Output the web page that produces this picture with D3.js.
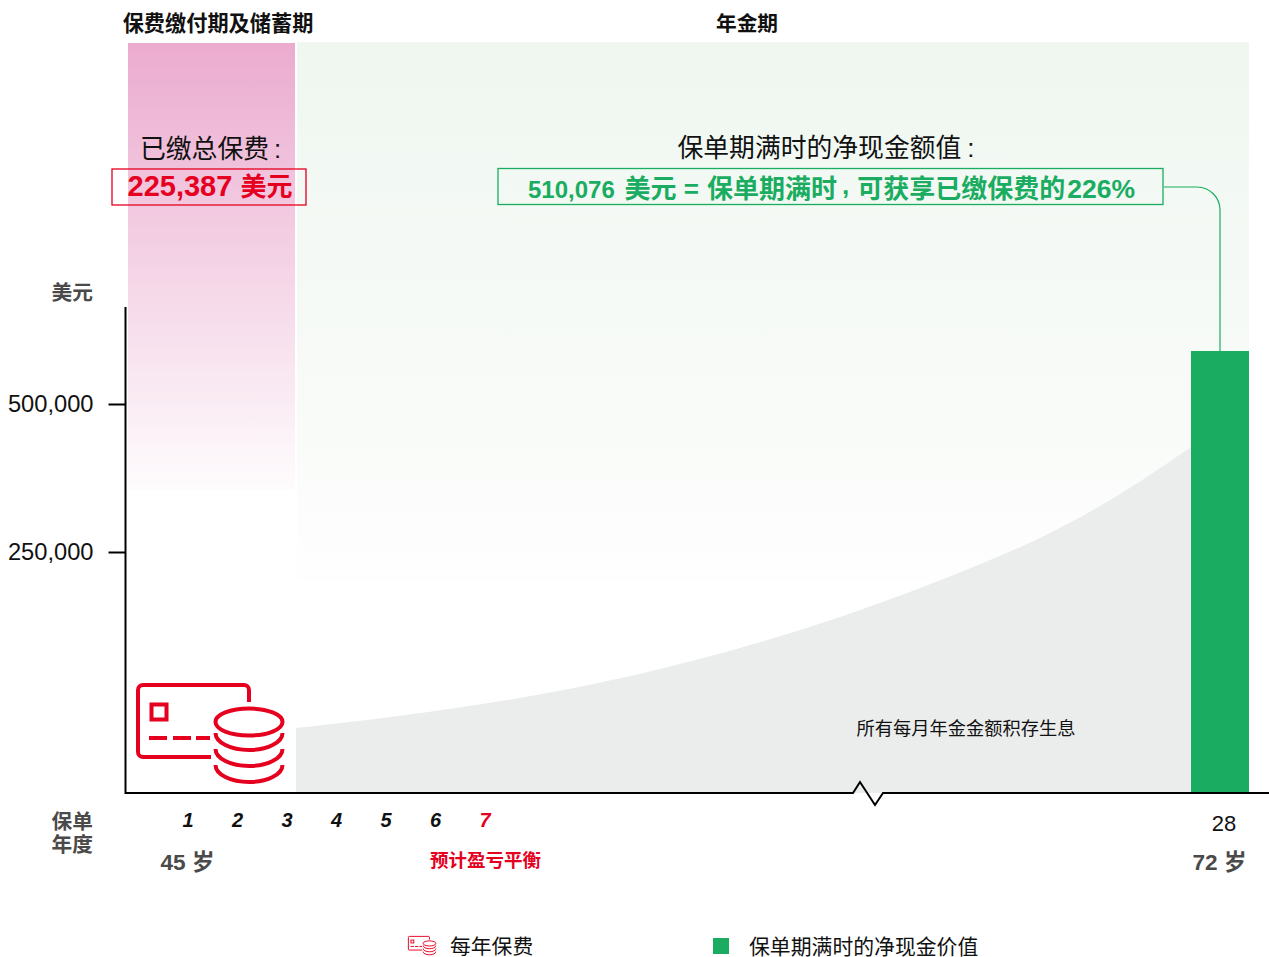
<!DOCTYPE html>
<html>
<head>
<meta charset="utf-8">
<script src="https://cdn.jsdelivr.net/npm/d3@7"></script>
<style>
  html, body { margin: 0; padding: 0; background: #fff; overflow: hidden; }
  svg { display: block; }
  text { font-family: "Liberation Sans", "Noto Sans CJK SC", sans-serif; }
  .dark { fill: #4a4a4a; font-weight: bold; }
</style>
</head>
<body>
<svg id="chart" width="1269" height="957"></svg>
<script>
const yearTicks = [1, 2, 3, 4, 5, 6, 7, 28];
const valueTicks = [250000, 500000];

// accumulated annuity value
const curveYears = [3.18, 4.88, 7.8, 10.66, 14.29, 17.14, 20, 22.86, 25.23, 27.17];
const curveValues = [67400, 76800, 96500, 116200, 149400, 181500, 219900, 270300, 348000, 427400];

const maturityYear = 28;
const maturityValue = 510076;

const RED = "#e6001f";
const GREEN = "#1aad61";
const GREY = "#ebeded";

const svg = d3.select("#chart");

// the axis is not to scale: years after 7 are compressed, top of the y axis stretched
const x = d3.scaleLinear().domain([1, 7, 28]).range([188, 485, 1220]);
const y = d3.scaleLinear().domain([0, 250000, 500000, 510076]).range([793, 552, 404, 351]);

//Background gradients
const defs = svg.append("defs");
function vGradient(id, stops) {
  const g = defs.append("linearGradient").attr("id", id)
    .attr("x1", 0).attr("x2", 0).attr("y1", 0).attr("y2", 1);
  stops.forEach((s) => g.append("stop").attr("offset", s[0]).attr("stop-color", s[1]));
}
vGradient("pink", [[0, "#ebabcf"], [1, "#fefcfd"]]);
vGradient("mint", [[0, "#eff7f0"], [0.72, "#f9fbf9"], [0.9, "#fcfdfc"], [1, "#fefefe"]]);

svg.append("rect").attr("x", 128).attr("width", 167).attr("y", 43).attr("height", 447)
  .attr("fill", "url(#pink)");
svg.append("rect").attr("x", 297).attr("width", 952).attr("y", 42).attr("height", 538)
  .attr("fill", "url(#mint)");

//Grey accumulation area
const area = d3.area()
  .x((d) => x(d[0]))
  .y0(y(0))
  .y1((d) => y(d[1]))
  .curve(d3.curveBasis);
svg.append("path")
  .datum(d3.zip(curveYears, curveValues))
  .attr("fill", GREY)
  .attr("d", area);

//Maturity bar
svg.append("rect")
  .attr("x", x(maturityYear) - 29)
  .attr("width", 58)
  .attr("y", y(maturityValue))
  .attr("height", y(0) - y(maturityValue))
  .attr("fill", GREEN);

//Axes
const yAxis = svg.append("g")
  .attr("transform", "translate(125.5,0)")
  .call(d3.axisLeft(y).tickValues(valueTicks).tickSize(17).tickPadding(15).tickFormat(d3.format(",")));
yAxis.select(".domain").remove();
yAxis.selectAll("line").attr("stroke", "#000").attr("stroke-width", 2);
yAxis.selectAll("text").attr("font-size", 23.7).attr("fill", "#111").attr("font-family", null);

svg.append("line").attr("x1", 125.5).attr("x2", 125.5).attr("y1", 307).attr("y2", 794)
  .attr("stroke", "#000").attr("stroke-width", 2);

svg.append("path")
  .attr("d", "M125,793H853L860,782L875,805L883,793H1269")
  .attr("fill", "none").attr("stroke", "#000").attr("stroke-width", 2);

const xAxis = svg.append("g")
  .attr("transform", "translate(0,793)")
  .call(d3.axisBottom(x).tickValues(yearTicks).tickSize(0).tickPadding(20).tickFormat(d3.format("d")));
xAxis.select(".domain").remove();
xAxis.selectAll("text")
  .attr("font-family", null)
  .attr("font-size", (d) => (d === 28 ? 22 : 20))
  .attr("font-weight", (d) => (d === 28 ? "normal" : "bold"))
  .attr("font-style", (d) => (d === 28 ? "normal" : "italic"))
  .attr("fill", (d) => (d === 7 ? RED : "#111"))
  .attr("dx", (d) => (d === 28 ? 3.5 : -0.4))
  .attr("y", (d) => (d === 28 ? 22.5 : 20));

//Text labels
function label(t, px, py, size, opts = {}) {
  return svg.append("text")
    .attr("x", px).attr("y", py)
    .attr("font-size", size)
    .attr("text-anchor", opts.anchor || "middle")
    .attr("font-weight", opts.weight || "normal")
    .attr("fill", opts.fill || "#111")
    .text(t);
}

label("保费缴付期及储蓄期", 218, 31, 21.2, { weight: "bold" });
label("年金期", 747, 31, 20.7, { weight: "bold" });

const paidTitle = label("已缴总保费", 140, 158, 25.8, { anchor: "start" });
paidTitle.append("tspan").attr("dx", 5).text(":");
const resultTitle = label("保单期满时的净现金额值", 677.5, 157, 25.8, { anchor: "start" });
resultTitle.append("tspan").attr("dx", 6).text(":");

const paid = label("", 210, 196, 29, { weight: "bold", fill: RED });
paid.append("tspan").text("225,387 ");
paid.append("tspan").attr("font-size", 26).text("美元");
svg.append("rect").attr("x", 112).attr("y", 169).attr("width", 194).attr("height", 36)
  .attr("fill", "none").attr("stroke", RED).attr("stroke-width", 1.3);

const result = label("", 528, 198, 26, { anchor: "start", weight: "bold", fill: GREEN });
result.append("tspan").attr("font-size", 24).text("510,076 ");
result.append("tspan").attr("dx", 3).text("美元 = ");
result.append("tspan").attr("dx", 1).text("保单期满时");
result.append("tspan").attr("dx", 5).attr("dy", -4).text(",");
result.append("tspan").attr("dx", 8).attr("dy", 4).text("可获享已缴保费的");
result.append("tspan").attr("dx", 2).attr("font-size", 26.5).text("226%");
svg.append("rect").attr("x", 498).attr("y", 168.5).attr("width", 665).attr("height", 36)
  .attr("fill", "none").attr("stroke", GREEN).attr("stroke-width", 1.3);

svg.append("path")
  .attr("d", `M1164,187H1197A23,23 0 0 1 1220,210V${y(maturityValue)}`)
  .attr("fill", "none").attr("stroke", GREEN).attr("stroke-width", 1.2);

label("美元", 93, 300, 20.7, { anchor: "end" }).attr("class", "dark");
label("保单", 93, 829, 20.7, { anchor: "end" }).attr("class", "dark");
label("年度", 93, 852, 20.7, { anchor: "end" }).attr("class", "dark");
label("45 岁", 187.5, 870, 22.6).attr("class", "dark");
label("72 岁", 1219.5, 870, 22.6).attr("class", "dark");
label("预计盈亏平衡", 485.5, 867, 18.5, { weight: "bold", fill: RED });
label("所有每月年金金额积存生息", 966, 735, 18.25);

//Premium icon, also used in the legend at a small scale
function drawIcon(px, py, scale, width) {
  const g = svg.append("g")
    .attr("transform", `translate(${px},${py}) scale(${scale})`)
    .attr("fill", "none")
    .attr("stroke", RED)
    .attr("stroke-width", width);
  g.append("path").attr("d", "M113,19V7A5,5 0 0 0 108,2H7A5,5 0 0 0 2,7V69A5,5 0 0 0 7,74H75");
  g.append("rect").attr("x", 15.5).attr("y", 21.5).attr("width", 15).attr("height", 15);
  g.append("path").attr("d", "M13,55H31M37,55H55M60,55H74");
  g.append("ellipse").attr("cx", 113).attr("cy", 39).attr("rx", 33.5).attr("ry", 13.5);
  [50, 66, 82].forEach((t) => {
    g.append("path").attr("d", `M79.5,${t}A33.5,17 0 0 0 146.5,${t}`);
  });
}
drawIcon(136, 683, 1, 4);
drawIcon(408, 936, 0.19, 5);

//Legend
label("每年保费", 450, 954, 20.8, { anchor: "start" });
svg.append("rect").attr("x", 713).attr("y", 938).attr("width", 16).attr("height", 16).attr("fill", GREEN);
label("保单期满时的净现金价值", 749, 954, 20.85, { anchor: "start" });
</script>
</body>
</html>
